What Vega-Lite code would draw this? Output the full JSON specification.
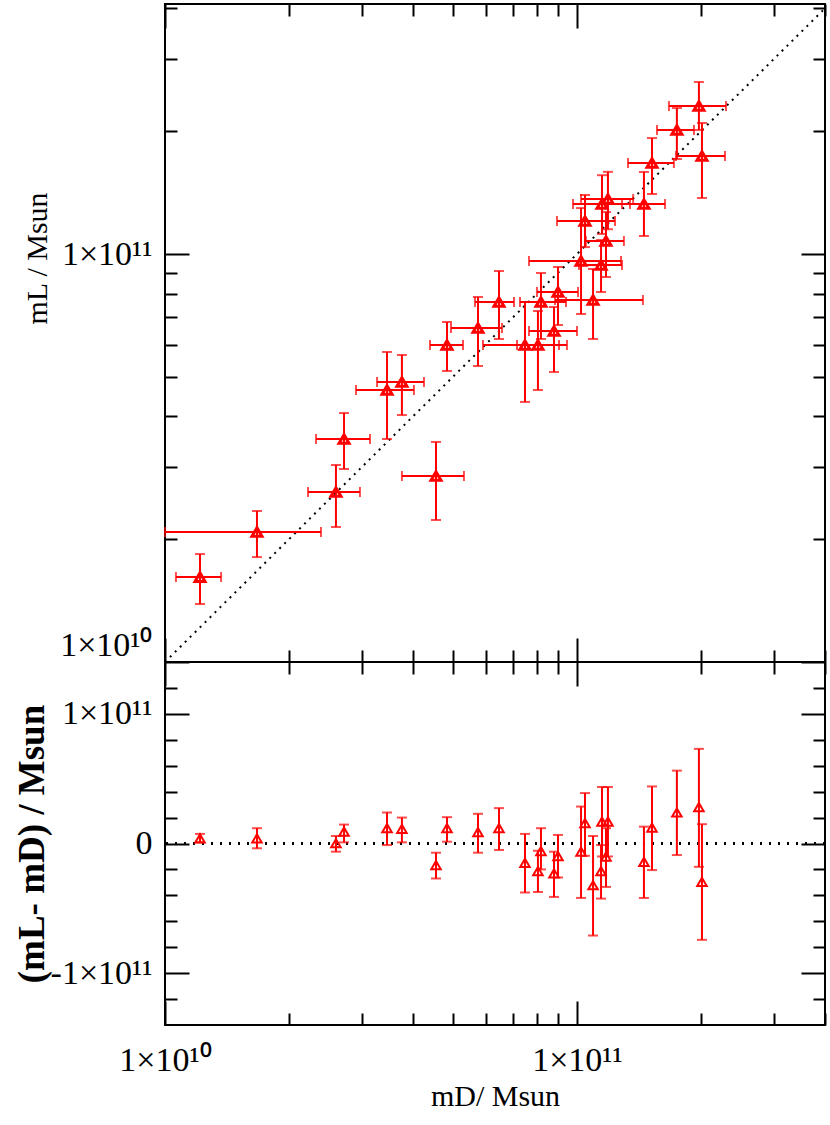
{
  "$schema": "https://vega.github.io/schema/vega-lite/v6.json",
  "padding": {"left": 11, "top": 2, "right": 5, "bottom": 5},
  "spacing": 0,
  "bounds": "flush",
  "config": {
    "font": "Liberation Serif",
    "view": {"stroke": "black", "strokeWidth": 2},
    "axis": {
      "labelFont": "Liberation Serif",
      "titleFont": "Liberation Serif",
      "labelColor": "black",
      "titleColor": "black",
      "tickColor": "black",
      "tickWidth": 2,
      "domain": false,
      "grid": false,
      "titleFontSize": 30,
      "titleFontWeight": "normal",
      "labelOverlap": false,
      "labelBound": false,
      "labelFlush": false
    }
  },
  "datasets": {
    "pts": [
      {"mD": 1.216e10, "mDlo": 1.063e10, "mDhi": 1.368e10, "mL": 1.615e10, "mLlo": 1.387e10, "mLhi": 1.839e10, "r": 4.0e9, "rlo": 0.9e9, "rhi": 7.4e9},
      {"mD": 1.672e10, "mDlo": 1.0e10, "mDhi": 2.391e10, "mL": 2.083e10, "mLlo": 1.808e10, "mLhi": 2.345e10, "r": 4.0e9, "rlo": -3.7e9, "rhi": 11.8e9},
      {"mD": 2.600e10, "mDlo": 2.224e10, "mDhi": 2.973e10, "mL": 2.610e10, "mLlo": 2.142e10, "mLhi": 3.040e10, "r": 0.2e9, "rlo": -6.3e9, "rhi": 5.8e9},
      {"mD": 2.720e10, "mDlo": 2.326e10, "mDhi": 3.145e10, "mL": 3.521e10, "mLlo": 2.972e10, "mLhi": 4.076e10, "r": 9.2e9, "rlo": 0.9e9, "rhi": 14.6e9},
      {"mD": 3.459e10, "mDlo": 2.908e10, "mDhi": 4.020e10, "mL": 4.642e10, "mLlo": 3.521e10, "mLhi": 5.753e10, "r": 11.8e9, "rlo": -1.2e9, "rhi": 23.9e9},
      {"mD": 3.759e10, "mDlo": 3.271e10, "mDhi": 4.252e10, "mL": 4.856e10, "mLlo": 4.030e10, "mLhi": 5.656e10, "r": 11.2e9, "rlo": 0.9e9, "rhi": 20.0e9},
      {"mD": 4.548e10, "mDlo": 3.759e10, "mDhi": 5.317e10, "mL": 2.857e10, "mLlo": 2.229e10, "mLhi": 3.462e10, "r": -16.7e9, "rlo": -27.0e9, "rhi": -7.1e9},
      {"mD": 4.836e10, "mDlo": 4.398e10, "mDhi": 5.288e10, "mL": 5.984e10, "mLlo": 5.167e10, "mLhi": 6.813e10, "r": 11.8e9, "rlo": 1.4e9, "rhi": 20.3e9},
      {"mD": 5.751e10, "mDlo": 4.945e10, "mDhi": 6.577e10, "mL": 6.587e10, "mLlo": 5.315e10, "mLhi": 7.847e10, "r": 8.7e9, "rlo": -7.1e9, "rhi": 22.9e9},
      {"mD": 6.467e10, "mDlo": 5.655e10, "mDhi": 7.033e10, "mL": 7.628e10, "mLlo": 6.191e10, "mLhi": 9.085e10, "r": 11.8e9, "rlo": -5.0e9, "rhi": 27.3e9},
      {"mD": 7.478e10, "mDlo": 5.914e10, "mDhi": 9.456e10, "mL": 5.984e10, "mLlo": 4.339e10, "mLhi": 7.628e10, "r": -14.9e9, "rlo": -37.8e9, "rhi": 7.4e9},
      {"mD": 8.040e10, "mDlo": 7.152e10, "mDhi": 9.045e10, "mL": 5.984e10, "mLlo": 4.642e10, "mLhi": 7.250e10, "r": -21.3e9, "rlo": -37.4e9, "rhi": -5.6e9},
      {"mD": 8.795e10, "mDlo": 7.647e10, "mDhi": 1.0e11, "mL": 6.476e10, "mLlo": 5.139e10, "mLhi": 7.415e10, "r": -23.1e9, "rlo": -41.2e9, "rhi": -6.3e9},
      {"mD": 8.177e10, "mDlo": 7.273e10, "mDhi": 9.404e10, "mL": 7.628e10, "mLlo": 6.191e10, "mLhi": 8.983e10, "r": -5.8e9, "rlo": -20.0e9, "rhi": 11.8e9},
      {"mD": 8.994e10, "mDlo": 7.996e10, "mDhi": 1.006e11, "mL": 8.070e10, "mLlo": 6.699e10, "mLhi": 9.293e10, "r": -9.7e9, "rlo": -26.2e9, "rhi": 6.6e9},
      {"mD": 1.094e11, "mDlo": 8.843e10, "mDhi": 1.446e11, "mL": 7.714e10, "mLlo": 6.191e10, "mLhi": 9.190e10, "r": -32.2e9, "rlo": -71.0e9, "rhi": 5.8e9},
      {"mD": 1.023e11, "mDlo": 7.647e10, "mDhi": 1.279e11, "mL": 9.612e10, "mLlo": 7.127e10, "mLhi": 1.296e11, "r": -6.3e9, "rlo": -42.0e9, "rhi": 28.5e9},
      {"mD": 1.144e11, "mDlo": 1.011e11, "mDhi": 1.286e11, "mL": 9.398e10, "mLlo": 8.070e10, "mLhi": 1.082e11, "r": -21.3e9, "rlo": -42.5e9, "rhi": -1.2e9},
      {"mD": 1.046e11, "mDlo": 8.943e10, "mDhi": 1.237e11, "mL": 1.205e11, "mLlo": 1.040e11, "mLhi": 1.395e11, "r": 15.7e9, "rlo": -9.5e9, "rhi": 38.9e9},
      {"mD": 1.176e11, "mDlo": 1.051e11, "mDhi": 1.300e11, "mL": 1.076e11, "mLlo": 8.782e10, "mLhi": 1.267e11, "r": -10.2e9, "rlo": -33.5e9, "rhi": 11.8e9},
      {"mD": 1.150e11, "mDlo": 9.779e10, "mDhi": 1.345e11, "mL": 1.326e11, "mLlo": 1.120e11, "mLhi": 1.560e11, "r": 16.9e9, "rlo": -10.0e9, "rhi": 43.6e9},
      {"mD": 1.189e11, "mDlo": 1.023e11, "mDhi": 1.369e11, "mL": 1.364e11, "mLlo": 1.150e11, "mLhi": 1.590e11, "r": 16.9e9, "rlo": -10.0e9, "rhi": 43.6e9},
      {"mD": 1.454e11, "mDlo": 1.286e11, "mDhi": 1.636e11, "mL": 1.326e11, "mLlo": 1.107e11, "mLhi": 1.589e11, "r": -14.1e9, "rlo": -42.0e9, "rhi": 13.0e9},
      {"mD": 1.521e11, "mDlo": 1.330e11, "mDhi": 1.719e11, "mL": 1.671e11, "mLlo": 1.403e11, "mLhi": 1.924e11, "r": 12.3e9, "rlo": -20.5e9, "rhi": 44.0e9},
      {"mD": 1.748e11, "mDlo": 1.564e11, "mDhi": 1.923e11, "mL": 2.014e11, "mLlo": 1.709e11, "mLhi": 2.279e11, "r": 23.9e9, "rlo": -8.9e9, "rhi": 56.2e9},
      {"mD": 1.977e11, "mDlo": 1.672e11, "mDhi": 2.300e11, "mL": 2.305e11, "mLlo": 2.014e11, "mLhi": 2.640e11, "r": 28.0e9, "rlo": -18.0e9, "rhi": 73.0e9},
      {"mD": 2.011e11, "mDlo": 1.739e11, "mDhi": 2.287e11, "mL": 1.739e11, "mLlo": 1.372e11, "mLhi": 2.095e11, "r": -29.6e9, "rlo": -74.3e9, "rhi": 14.9e9}
    ],
    "diag": [{"v": 1e10}, {"v": 4.1e11}]
  },
  "vconcat": [
    {
      "width": 660,
      "height": 658,
      "data": {"name": "pts"},
      "resolve": {"axis": {"x": "independent", "y": "independent"}},
      "layer": [
        {
          "data": {"name": "diag"},
          "mark": {"type": "line", "color": "black", "strokeWidth": 2, "strokeDash": [2, 5], "clip": true},
          "encoding": {
            "x": {"field": "v", "type": "quantitative", "scale": {"type": "log", "domain": [1e10, 4e11]},
              "axis": {"orient": "bottom", "values": [1e10,2e10,3e10,4e10,5e10,6e10,7e10,8e10,9e10,1e11,2e11,3e11,4e11], "labels": false, "title": null,
                "tickSize": {"condition": {"test": "datum.value == 1e10 || datum.value == 1e11", "value": -24}, "value": -12}}},
            "y": {"field": "v", "type": "quantitative", "scale": {"type": "log", "domain": [1e10, 4.1e11]},
              "axis": {"orient": "left", "values": [1e10,2e10,3e10,4e10,5e10,6e10,7e10,8e10,9e10,1e11,2e11,3e11,4e11],
                "labelExpr": "datum.value == 1e10 ? '1×10¹⁰' : datum.value == 1e11 ? '1×10¹¹' : ''",
                "labelFontSize": {"condition": {"test": "datum.value == 1e10 || datum.value == 1e11", "value": 34}, "value": 0},
                "labelPadding": 37, "labelFlush": true,
                "title": "mL / Msun", "titleX": -113, "titleY": 254,
                "tickSize": {"condition": {"test": "datum.value == 1e10 || datum.value == 1e11", "value": -24}, "value": -12}}}
          }
        },
        {
          "mark": {"type": "rule", "color": "#ff0000", "strokeWidth": 2},
          "encoding": {
            "x": {"field": "mDlo", "type": "quantitative", "scale": {"type": "log", "domain": [1e10, 4e11]},
              "axis": {"orient": "top", "values": [1e10,2e10,3e10,4e10,5e10,6e10,7e10,8e10,9e10,1e11,2e11,3e11,4e11], "labels": false, "title": null,
                "tickSize": {"condition": {"test": "datum.value == 1e10 || datum.value == 1e11", "value": -24}, "value": -12}}},
            "x2": {"field": "mDhi"},
            "y": {"field": "mL", "type": "quantitative", "scale": {"type": "log", "domain": [1e10, 4.1e11]},
              "axis": {"orient": "right", "values": [1e10,2e10,3e10,4e10,5e10,6e10,7e10,8e10,9e10,1e11,2e11,3e11,4e11], "labels": false, "title": null,
                "tickSize": {"condition": {"test": "datum.value == 1e10 || datum.value == 1e11", "value": -24}, "value": -12}}}
          }
        },
        {
          "mark": {"type": "rule", "color": "#ff0000", "strokeWidth": 2},
          "encoding": {
            "x": {"field": "mD", "type": "quantitative", "scale": {"type": "log", "domain": [1e10, 4e11]}, "axis": null},
            "y": {"field": "mLlo", "type": "quantitative", "scale": {"type": "log", "domain": [1e10, 4.1e11]}, "axis": null},
            "y2": {"field": "mLhi"}
          }
        },
        {
          "mark": {"type": "tick", "orient": "vertical", "color": "#ff0000", "size": 10, "thickness": 2},
          "encoding": {
            "x": {"field": "mDlo", "type": "quantitative", "scale": {"type": "log", "domain": [1e10, 4e11]}, "axis": null},
            "y": {"field": "mL", "type": "quantitative", "scale": {"type": "log", "domain": [1e10, 4.1e11]}, "axis": null}
          }
        },
        {
          "mark": {"type": "tick", "orient": "vertical", "color": "#ff0000", "size": 10, "thickness": 2},
          "encoding": {
            "x": {"field": "mDhi", "type": "quantitative", "scale": {"type": "log", "domain": [1e10, 4e11]}, "axis": null},
            "y": {"field": "mL", "type": "quantitative", "scale": {"type": "log", "domain": [1e10, 4.1e11]}, "axis": null}
          }
        },
        {
          "mark": {"type": "tick", "orient": "horizontal", "color": "#ff0000", "size": 10, "thickness": 2},
          "encoding": {
            "x": {"field": "mD", "type": "quantitative", "scale": {"type": "log", "domain": [1e10, 4e11]}, "axis": null},
            "y": {"field": "mLlo", "type": "quantitative", "scale": {"type": "log", "domain": [1e10, 4.1e11]}, "axis": null}
          }
        },
        {
          "mark": {"type": "tick", "orient": "horizontal", "color": "#ff0000", "size": 10, "thickness": 2},
          "encoding": {
            "x": {"field": "mD", "type": "quantitative", "scale": {"type": "log", "domain": [1e10, 4e11]}, "axis": null},
            "y": {"field": "mLhi", "type": "quantitative", "scale": {"type": "log", "domain": [1e10, 4.1e11]}, "axis": null}
          }
        },
        {
          "mark": {"type": "point", "shape": "triangle-up", "filled": false, "color": "#ff0000", "strokeWidth": 3, "size": 100, "opacity": 1},
          "encoding": {
            "x": {"field": "mD", "type": "quantitative", "scale": {"type": "log", "domain": [1e10, 4e11]}, "axis": null},
            "y": {"field": "mL", "type": "quantitative", "scale": {"type": "log", "domain": [1e10, 4.1e11]}, "axis": null}
          }
        }
      ]
    },
    {
      "width": 660,
      "height": 363,
      "data": {"name": "pts"},
      "resolve": {"axis": {"x": "independent", "y": "independent"}},
      "layer": [
        {
          "mark": {"type": "rule", "color": "black", "strokeWidth": 2, "strokeDash": [2, 7]},
          "encoding": {
            "y": {"datum": 0, "type": "quantitative", "scale": {"domain": [-1.4e11, 1.4e11]},
              "axis": {"orient": "left", "values": [-1.2e11,-1e11,-8e10,-6e10,-4e10,-2e10,0,2e10,4e10,6e10,8e10,1e11,1.2e11],
                "labelExpr": "datum.value == 0 ? '0' : datum.value == 1e11 ? '1×10¹¹' : datum.value == -1e11 ? '-1×10¹¹' : ''",
                "labelFontSize": {"condition": {"test": "datum.value == 0 || abs(datum.value) == 1e11", "value": 34}, "value": 0},
                "labelPadding": 37,
                "title": "(mL- mD) / Msun", "titleX": -114, "titleFontSize": 37, "titleFontWeight": "bold",
                "tickSize": {"condition": {"test": "datum.value == 0 || abs(datum.value) == 1e11", "value": -24}, "value": -12}}}
          }
        },
        {
          "mark": {"type": "rule", "color": "#ff0000", "strokeWidth": 2},
          "encoding": {
            "x": {"field": "mD", "type": "quantitative", "scale": {"type": "log", "domain": [1e10, 4e11]},
              "axis": {"orient": "bottom", "values": [1e10,2e10,3e10,4e10,5e10,6e10,7e10,8e10,9e10,1e11,2e11,3e11,4e11],
                "labelExpr": "datum.value == 1e10 ? '1×10¹⁰' : datum.value == 1e11 ? '1×10¹¹' : ''",
                "labelFontSize": {"condition": {"test": "datum.value == 1e10 || datum.value == 1e11", "value": 34}, "value": 0},
                "labelPadding": 42, "labelFlush": false,
                "title": "mD/ Msun", "titleY": 80, "titleBaseline": "alphabetic",
                "tickSize": {"condition": {"test": "datum.value == 1e10 || datum.value == 1e11", "value": -24}, "value": -12}}},
            "y": {"field": "rlo", "type": "quantitative", "scale": {"domain": [-1.4e11, 1.4e11]},
              "axis": {"orient": "right", "values": [-1.2e11,-1e11,-8e10,-6e10,-4e10,-2e10,0,2e10,4e10,6e10,8e10,1e11,1.2e11], "labels": false, "title": null,
                "tickSize": {"condition": {"test": "datum.value == 0 || abs(datum.value) == 1e11", "value": -24}, "value": -12}}},
            "y2": {"field": "rhi"}
          }
        },
        {
          "mark": {"type": "tick", "orient": "horizontal", "color": "#ff0000", "size": 10, "thickness": 2},
          "encoding": {
            "x": {"field": "mD", "type": "quantitative", "scale": {"type": "log", "domain": [1e10, 4e11]},
              "axis": {"orient": "top", "values": [1e10,2e10,3e10,4e10,5e10,6e10,7e10,8e10,9e10,1e11,2e11,3e11,4e11], "labels": false, "title": null,
                "tickSize": {"condition": {"test": "datum.value == 1e10 || datum.value == 1e11", "value": -24}, "value": -12}}},
            "y": {"field": "rlo", "type": "quantitative", "scale": {"domain": [-1.4e11, 1.4e11]}, "axis": null}
          }
        },
        {
          "mark": {"type": "tick", "orient": "horizontal", "color": "#ff0000", "size": 10, "thickness": 2},
          "encoding": {
            "x": {"field": "mD", "type": "quantitative", "scale": {"type": "log", "domain": [1e10, 4e11]}, "axis": null},
            "y": {"field": "rhi", "type": "quantitative", "scale": {"domain": [-1.4e11, 1.4e11]}, "axis": null}
          }
        },
        {
          "mark": {"type": "point", "shape": "triangle-up", "filled": false, "color": "#ff0000", "strokeWidth": 2, "size": 90, "opacity": 1},
          "encoding": {
            "x": {"field": "mD", "type": "quantitative", "scale": {"type": "log", "domain": [1e10, 4e11]}, "axis": null},
            "y": {"field": "r", "type": "quantitative", "scale": {"domain": [-1.4e11, 1.4e11]}, "axis": null}
          }
        }
      ]
    }
  ]
}
